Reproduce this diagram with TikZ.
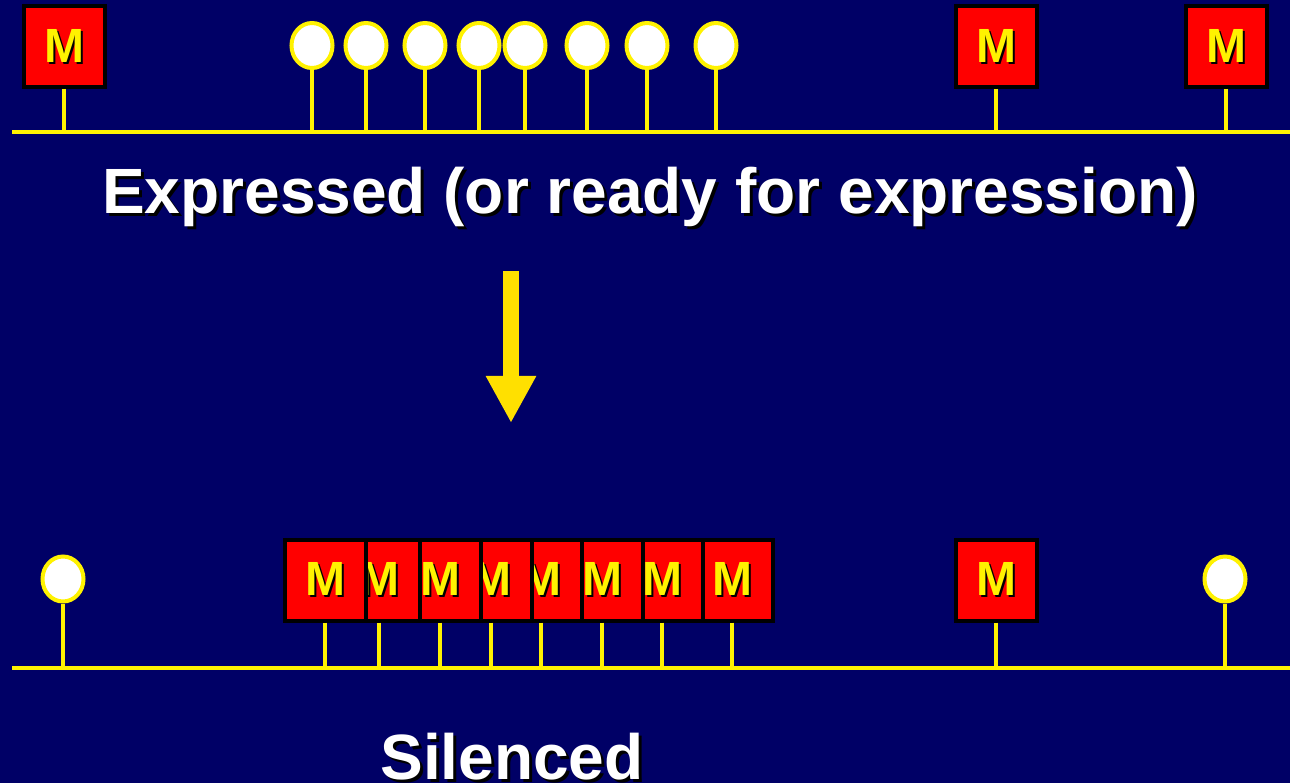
\documentclass[tikz,border=0pt]{standalone}
\usepackage{fontspec}
\setmainfont{Liberation Sans}
\usetikzlibrary{shapes.geometric,arrows.meta}
\definecolor{navy}{RGB}{0,0,102}
\definecolor{gold}{RGB}{255,224,0}
\newcommand{\shd}[2]{{\makebox[0pt][l]{\hspace{#1}\raisebox{-#1}{\color{black}#2}}#2}}
\begin{document}
\begin{tikzpicture}[x=1pt,y=-1pt,
  mbox/.style={rectangle,draw=black,line width=4pt,fill=red,minimum size=81pt,inner sep=0pt,
     text=yellow,font=\fontsize{48}{48}\bfseries\selectfont},
  ball/.style={ellipse,draw=yellow,line width=4pt,fill=white,minimum width=41pt,minimum height=45pt,inner sep=0pt},
  stem/.style={draw=yellow,line width=3.5pt},
  dna/.style={draw=yellow,line width=4pt},
  title/.style={text=white,font=\fontsize{64}{64}\bfseries\selectfont,anchor=base,inner sep=0pt}]
\fill[navy] (0,0) rectangle (1290,783);
\useasboundingbox (0,0) rectangle (1290,783);
% ---------- top row ----------
\coordinate (tL) at (12,132);
\coordinate (tR) at (1290,132);
\draw[dna] (tL) -- (tR);
\foreach \i/\x in {1/64,2/996,3/1226}{
  \node[mbox] (tm\i) at (\x,46.5) {\shd{2pt}{M}};
  \coordinate (tmb\i) at (\x,132);
  \draw[stem] (tm\i.south) -- (tmb\i);
}
\foreach \i/\x in {1/312,2/366,3/425,4/479,5/525,6/587,7/647,8/716}{
  \node[ball] (tc\i) at (\x,45.5) {};
  \coordinate (tcb\i) at (\x,132);
  \draw[stem] (tc\i.south) -- (tcb\i);
}
\node[title] (expr) at (650,214) {\shd{3pt}{Expressed (or ready for expression)}};
% ---------- arrow ----------
\coordinate (a1) at (511,271);
\coordinate (a2) at (511,423);
\draw[gold,line width=16pt,-{Triangle[width=47pt,length=47pt]}] (a1) -- (a2);
% ---------- bottom row ----------
\coordinate (bL) at (12,668);
\coordinate (bR) at (1290,668);
\draw[dna] (bL) -- (bR);
\foreach \i/\x in {8/732,7/662,6/602,5/541,4/491,3/440,2/379,1/325}{
  \node[mbox] (bm\i) at (\x,580) {\shd{2pt}{M}};
  \coordinate (bmb\i) at (\x,668);
  \draw[stem] (bm\i.south) -- (bmb\i);
}
\node[mbox] (bm9) at (996,580) {\shd{2pt}{M}};
\coordinate (bmb9) at (996,668);
\draw[stem] (bm9.south) -- (bmb9);
\foreach \i/\x in {1/63,2/1225}{
  \node[ball] (bc\i) at (\x,579) {};
  \coordinate (bcb\i) at (\x,668);
  \draw[stem] (bc\i.south) -- (bcb\i);
}
\node[title] (sil) at (512,779) {\shd{3pt}{Silenced}};
\end{tikzpicture}
\end{document}
